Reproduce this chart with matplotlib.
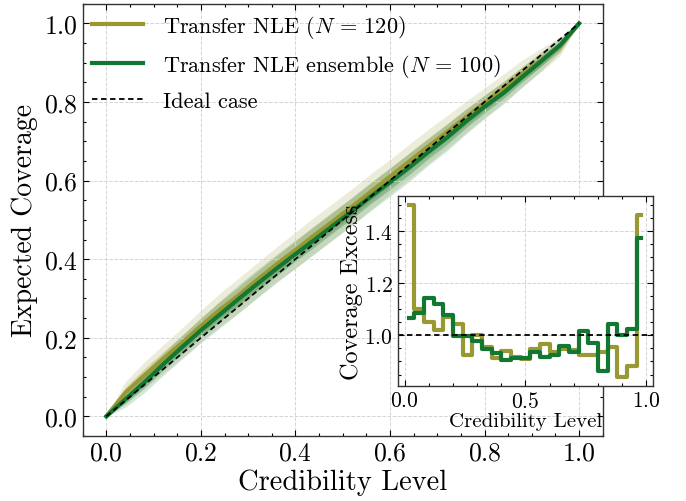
import matplotlib
matplotlib.use("Agg")
import matplotlib.pyplot as plt
import numpy as np
from matplotlib.ticker import AutoMinorLocator, MultipleLocator

plt.rcParams["font.family"] = ["cmr10", "DejaVu Serif"]
plt.rcParams["mathtext.fontset"] = "cm"
plt.rcParams["axes.formatter.use_mathtext"] = True
plt.rcParams["axes.unicode_minus"] = False

olive = "#999933"
green = "#117733"

# main panel: expected coverage vs credibility level
cred = [0.00, 0.04, 0.08, 0.12, 0.16, 0.20, 0.24, 0.28, 0.32, 0.36, 0.40, 0.44, 0.48,
        0.52, 0.56, 0.60, 0.64, 0.68, 0.72, 0.76, 0.80, 0.84, 0.88, 0.92, 0.96, 1.00]
cov_nle = [0.000, 0.060, 0.104, 0.146, 0.187, 0.230, 0.271, 0.308, 0.348, 0.387, 0.423, 0.461, 0.497,
           0.534, 0.572, 0.610, 0.648, 0.686, 0.723, 0.761, 0.798, 0.835, 0.873, 0.907, 0.942, 1.000]
cov_ens = [0.000, 0.043, 0.086, 0.132, 0.176, 0.219, 0.259, 0.299, 0.338, 0.376, 0.413, 0.449, 0.486,
           0.522, 0.560, 0.596, 0.633, 0.672, 0.709, 0.750, 0.788, 0.823, 0.864, 0.904, 0.945, 1.000]
# 1-sigma spread of the coverage curves
sig_nle = [0.000, 0.014, 0.017, 0.018, 0.019, 0.020, 0.021, 0.022, 0.022, 0.022, 0.023, 0.023, 0.023,
           0.023, 0.023, 0.022, 0.022, 0.022, 0.021, 0.020, 0.019, 0.018, 0.017, 0.015, 0.012, 0.000]
sig_ens = [0.000, 0.010, 0.013, 0.014, 0.015, 0.016, 0.017, 0.018, 0.018, 0.018, 0.018, 0.018, 0.018,
           0.018, 0.018, 0.018, 0.018, 0.017, 0.017, 0.016, 0.015, 0.014, 0.013, 0.012, 0.009, 0.000]

# inset: coverage excess per credibility bin
bins = [0.02, 0.06, 0.10, 0.14, 0.18, 0.22, 0.26, 0.30, 0.34, 0.38, 0.42, 0.46, 0.50,
        0.54, 0.58, 0.62, 0.66, 0.70, 0.74, 0.78, 0.82, 0.86, 0.90, 0.94, 0.98]
exc_nle = [1.50, 1.10, 1.05, 1.02, 1.07, 1.045, 0.925, 1.00, 0.955, 0.912, 0.94, 0.916, 0.91,
           0.946, 0.968, 0.936, 0.948, 0.945, 0.926, 0.926, 0.936, 0.955, 0.839, 0.882, 1.463]
exc_ens = [1.067, 1.084, 1.142, 1.119, 1.08, 0.996, 0.998, 0.977, 0.946, 0.933, 0.907, 0.914, 0.914,
           0.936, 0.916, 0.926, 0.961, 0.936, 1.016, 0.97, 0.862, 1.045, 1.0, 1.026, 1.372]


def style_axes(ax, maj_x, maj_y, nx, ny, size):
    ax.xaxis.set_major_locator(MultipleLocator(maj_x))
    ax.yaxis.set_major_locator(MultipleLocator(maj_y))
    ax.xaxis.set_minor_locator(AutoMinorLocator(nx))
    ax.yaxis.set_minor_locator(AutoMinorLocator(ny))
    ax.tick_params(which="both", direction="in", top=True, right=True, labelsize=size, width=0.8)
    ax.tick_params(which="major", length=4)
    ax.tick_params(which="minor", length=2)
    ax.grid(True, ls="--", lw=0.7, color="#d4d4d4")
    for s in ax.spines.values():
        s.set_linewidth(1.0)
        s.set_color("#333333")


fig = plt.figure(figsize=(6.86, 5.02), dpi=100)
ax = fig.add_axes([0.1206, 0.1295, 0.758, 0.861])

x = np.array(cred)
for cov, sig, c in [(cov_nle, sig_nle, olive), (cov_ens, sig_ens, green)]:
    cov = np.array(cov)
    sig = np.array(sig)
    ax.fill_between(x, cov - 2 * sig, cov + 2 * sig, color=c, alpha=0.18, lw=0)
    ax.fill_between(x, cov - sig, cov + sig, color=c, alpha=0.3, lw=0)

ax.plot(cred, cov_nle, color=olive, lw=3, label=r"Transfer NLE ($N\,=\,120$)")
ax.plot(cred, cov_ens, color=green, lw=3, label=r"Transfer NLE ensemble ($N\,=\,100$)")
ax.plot([0, 1], [0, 1], "k--", lw=1.3, dashes=(3, 2), label="Ideal case")

style_axes(ax, 0.2, 0.2, 4, 4, 18.5)
ax.set_xlim(-0.05, 1.05)
ax.set_ylim(-0.05, 1.05)
ax.set_xlabel("Credibility Level", fontsize=20.5, labelpad=3)
ax.set_ylabel("Expected Coverage", fontsize=20, labelpad=4)
ax.legend(loc="upper left", frameon=False, fontsize=16, handlelength=2.3,
          handletextpad=0.9, borderaxespad=0.0, labelspacing=0.55)

# inset
ins = fig.add_axes([0.580, 0.229, 0.372, 0.378])
ins.step(bins, exc_nle, where="mid", color=olive, lw=3)
ins.step(bins, exc_ens, where="mid", color=green, lw=3)
ins.axhline(1.0, color="k", ls="--", lw=1.3, dashes=(3, 2))
style_axes(ins, 0.5, 0.2, 5, 4, 15.5)
ins.set_xlabel("Credibility Level", fontsize=15, labelpad=1)
ins.set_ylabel("Coverage Excess", fontsize=17.5, labelpad=1)

fig.savefig("out.png", dpi=100)
